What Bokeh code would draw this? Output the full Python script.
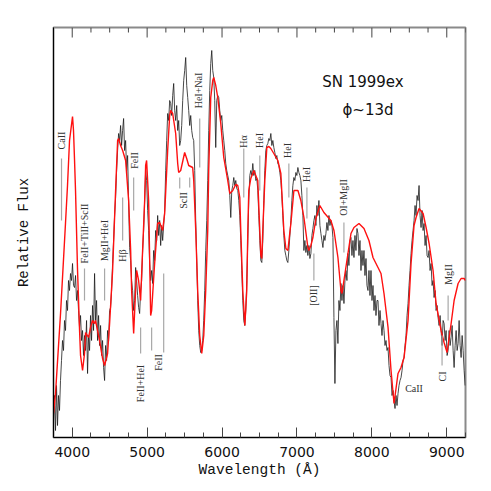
import numpy as np
from bokeh.plotting import figure
from bokeh.models import Range1d, FixedTicker, ColumnDataSource
from bokeh.core.properties import value
from bokeh.embed import file_html
from bokeh.resources import INLINE

# ---------------- data ----------------
# synthetic (model) spectrum: wavelength (A), relative flux
model_wave = [3750, 3777, 3844, 3910, 3937, 3964, 4004, 4017, 4031, 4044, 4071, 4098, 4111, 4138,
              4164, 4178, 4218, 4245, 4271, 4298, 4311, 4365, 4405, 4432, 4472, 4499, 4539, 4579,
              4606, 4619, 4646, 4673, 4713, 4753, 4780, 4793, 4820, 4846, 4860, 4886, 4913, 4927,
              4967, 4980, 4993, 5020, 5034, 5047, 5060, 5100, 5140, 5167, 5207, 5234, 5274, 5301,
              5314, 5341, 5381, 5408, 5421, 5448, 5501, 5528, 5555, 5608, 5622, 5649, 5675, 5702,
              5729, 5756, 5782, 5809, 5822, 5849, 5876, 5889, 5916, 5943, 5983, 6023, 6076, 6103,
              6143, 6183, 6210, 6237, 6250, 6277, 6304, 6330, 6344, 6357, 6384, 6424, 6477, 6504,
              6518, 6531, 6544, 6571, 6598, 6625, 6651, 6691, 6745, 6785, 6825, 6852, 6879, 6905,
              6919, 6959, 6986, 7013, 7052, 7093, 7146, 7159, 7186, 7213, 7253, 7306, 7360, 7453,
              7494, 7547, 7587, 7601, 7627, 7681, 7721, 7761, 7828, 7895, 7961, 8015, 8082, 8122,
              8162, 8216, 8256, 8296, 8349, 8389, 8430, 8483, 8523, 8563, 8590, 8630, 8684, 8724,
              8764, 8817, 8857, 8924, 8964, 9004, 9058, 9098, 9151, 9191, 9232, 9250]
model_flux = [24, 44, 124, 214, 252, 297, 321, 307, 277, 247, 167, 107, 82, 67,
              84, 105, 100, 110, 117, 114, 117, 97, 79, 72, 84, 114, 167, 247,
              297, 299, 292, 287, 277, 237, 187, 147, 104, 147, 167, 157, 137, 164,
              237, 272, 277, 237, 177, 122, 127, 174, 214, 215, 207, 224, 287, 322,
              327, 324, 304, 274, 265, 267, 285, 279, 272, 270, 257, 207, 147, 102,
              84, 102, 147, 207, 267, 340, 357, 360, 352, 340, 314, 280, 257, 244,
              247, 253, 252, 240, 207, 147, 112, 147, 207, 247, 259, 267, 257, 207,
              182, 179, 207, 257, 290, 291, 289, 284, 277, 264, 207, 189, 187, 205,
              214, 247, 247, 247, 237, 220, 190, 187, 192, 200, 219, 232, 225, 217,
              207, 180, 147, 144, 157, 184, 204, 210, 214, 209, 197, 180, 170, 164,
              144, 110, 67, 34, 64, 70, 80, 117, 174, 212, 220, 229, 224, 210,
              194, 167, 134, 107, 95, 85, 114, 137, 154, 159, 159, 157]

# observed spectrum: constant dispersion starting at obs_start (A)
obs_start = 3750.0
obs_dispersion = 13.37
obs_flux = [17, 42, 7, 52, 12, 42, 27, 57, 77, 97, 87, 117, 107, 137, 127, 157, 147, 164, 157, 174,
            152, 150, 162, 137, 147, 127, 110, 122, 97, 107, 82, 102, 87, 117, 64, 102, 87, 122, 97, 132,
            107, 164, 117, 137, 97, 122, 92, 112, 82, 97, 70, 57, 92, 77, 107, 97, 127, 130, 147, 174,
            197, 222, 240, 267, 287, 304, 297, 312, 292, 307, 319, 287, 297, 267, 282, 237, 190, 177, 157, 147,
            127, 137, 170, 157, 142, 130, 124, 147, 157, 187, 207, 237, 267, 257, 227, 207, 174, 157, 167, 154,
            187, 177, 207, 197, 222, 202, 217, 192, 212, 197, 212, 227, 267, 297, 324, 317, 337, 334, 322, 342,
            354, 327, 317, 332, 307, 317, 292, 297, 312, 337, 357, 367, 380, 352, 340, 327, 312, 322, 307, 300,
            297, 267, 217, 177, 137, 107, 92, 85, 87, 97, 117, 147, 187, 217, 257, 307, 347, 374, 387, 367,
            360, 337, 290, 337, 342, 340, 327, 317, 322, 307, 297, 287, 274, 267, 262, 257, 242, 220, 247, 252,
            260, 252, 257, 249, 247, 237, 222, 197, 167, 137, 117, 112, 127, 157, 197, 237, 262, 267, 262, 274,
            262, 267, 257, 259, 247, 222, 197, 177, 175, 197, 237, 267, 287, 292, 294, 299, 297, 304, 292, 297,
            290, 285, 279, 282, 274, 272, 265, 257, 242, 222, 202, 187, 182, 177, 175, 187, 202, 217, 237, 252,
            260, 257, 265, 262, 270, 265, 262, 257, 242, 222, 187, 197, 185, 192, 182, 192, 179, 184, 202, 209,
            217, 222, 212, 232, 222, 237, 212, 204, 197, 190, 202, 197, 204, 215, 207, 222, 212, 217, 212, 200,
            120, 54, 107, 117, 94, 137, 127, 154, 137, 152, 134, 157, 167, 157, 184, 172, 197, 200, 182, 197,
            180, 202, 187, 209, 204, 182, 197, 167, 187, 172, 187, 162, 179, 152, 147, 167, 142, 167, 137, 152,
            127, 142, 122, 137, 137, 112, 127, 114, 102, 117, 107, 92, 97, 87, 90, 72, 62, 60, 42, 47,
            37, 29, 42, 32, 44, 52, 57, 60, 67, 77, 80, 92, 102, 122, 134, 152, 167, 184, 197, 207,
            217, 232, 222, 242, 237, 252, 222, 210, 227, 207, 214, 192, 202, 182, 180, 187, 167, 174, 152, 157,
            140, 147, 127, 132, 120, 112, 122, 107, 92, 117, 114, 97, 107, 82, 87, 107, 92, 100, 112, 87,
            70, 92, 107, 87, 94, 117, 92, 80, 102, 87, 67, 52]

# line identification marks: wavelength, flux range of the tick mark
mark_wave = [3857, 4164, 4432, 4673, 4820, 4913, 5060, 5221, 5435, 5568, 5702, 6290, 6504, 6892,
             7133, 7226, 7627, 8937, 9018]
mark_top = [279, 169, 169, 240, 260, 110, 110, 164, 260, 260, 319, 289, 282, 274, 250, 184, 215, 102, 142]
mark_bot = [217, 137, 137, 197, 227, 84, 87, 85, 249, 250, 270, 240, 247, 240, 219, 157, 185, 72, 117]

# line identification labels
label_text = ["CaII", "FeII+TiII+ScII", "MgII+HeI", "H\u03b2", "FeII", "FeII+HeI", "FeII", "ScII",
              "HeI+NaI", "H\u03b1", "HeI", "HeI", "HeI", "[OII]", "OI+MgII", "CI", "MgII"]
label_wave = [3857, 4164, 4432, 4673, 4833, 4913, 5154, 5488, 5689, 6290, 6504, 6879, 7133, 7226,
              7627, 8937, 9018]
label_flux = [297, 204, 197, 182, 277, 54, 75, 237, 347, 296, 297, 287, 263, 142, 240, 61, 163]

# horizontal label
h_label_text = ["CaII"]
h_label_wave = [8563]
h_label_flux = [49]

title_text = ["SN 1999ex", "\u03d5~13d"]
title_wave = [7881, 7948]
title_flux = [356, 328]

x_ticks = [4000, 5000, 6000, 7000, 8000, 9000]
x_minor_ticks = [3750, 4250, 4500, 4750, 5250, 5500, 5750, 6250, 6500, 6750, 7250, 7500, 7750,
                 8250, 8500, 8750, 9250]

X0, X1, Y0, Y1 = 3750, 9250, 0, 410

# ---------------- figure ----------------
p = figure(frame_width=412, frame_height=410, output_backend="svg", toolbar_location=None,
           x_range=Range1d(X0, X1), y_range=Range1d(Y0, Y1),
           min_border_left=53, min_border_right=24, min_border_top=27, min_border_bottom=50)
p.grid.visible = False
p.outline_line_color = "#8a8a8a"
p.outline_line_width = 2
p.background_fill_color = "white"
p.border_fill_color = "white"

obs_wave = obs_start + obs_dispersion * np.arange(len(obs_flux))
p.line(obs_wave, obs_flux, line_color="#1a1a1a", line_width=0.8)
p.line(model_wave, model_flux, line_color="#ff1010", line_width=1.4)

p.segment(x0=mark_wave, y0=mark_bot, x1=mark_wave, y1=mark_top, line_color="#a8a8a8", line_width=1.2)

lab_src = ColumnDataSource(dict(x=label_wave, y=label_flux, t=label_text))
p.text(x="x", y="y", text="t", source=lab_src, angle=np.pi / 2, text_align="center",
       text_baseline="middle", text_font=value("Liberation Serif"), text_font_size="10px",
       text_color="#333333")
p.text(x=h_label_wave, y=h_label_flux, text=h_label_text, text_align="center",
       text_baseline="middle", text_font=value("Liberation Serif"), text_font_size="10px",
       text_color="#333333")
p.text(x=title_wave, y=title_flux, text=title_text, text_align="center", text_baseline="middle",
       text_font=value("DejaVu Sans"), text_font_size="15px", text_color="#111111")

# inward ticks along the top edge, drawn from the same tick lists
p.ray(x=x_ticks, y=[Y1] * len(x_ticks), length=10, length_units="screen", angle=-np.pi / 2,
      line_color="#444444", line_width=1)
p.ray(x=x_minor_ticks, y=[Y1] * len(x_minor_ticks), length=5, length_units="screen",
      angle=-np.pi / 2, line_color="#444444", line_width=1)

# axes
xa = p.xaxis[0]
xa.ticker = FixedTicker(ticks=x_ticks, minor_ticks=x_minor_ticks)
xa.major_tick_in = 10
xa.major_tick_out = 0
xa.minor_tick_in = 5
xa.minor_tick_out = 0
xa.major_tick_line_color = "#444444"
xa.minor_tick_line_color = "#444444"
xa.axis_line_color = "black"
xa.major_label_text_font = "DejaVu Sans"
xa.major_label_text_font_size = "14px"
xa.major_label_text_color = "#111111"
xa.major_label_standoff = 9
xa.axis_label = "Wavelength (\u00c5)"
xa.axis_label_text_font = "Liberation Mono"
xa.axis_label_text_font_size = "14.5px"
xa.axis_label_text_font_style = "normal"
xa.axis_label_text_color = "#111111"
xa.axis_label_standoff = 2

ya = p.yaxis[0]
ya.ticker = FixedTicker(ticks=[])
ya.major_tick_in = 0
ya.major_tick_out = 0
ya.minor_tick_in = 0
ya.minor_tick_out = 0
ya.axis_line_color = "black"
ya.axis_label = "Relative Flux"
ya.axis_label_text_font = "Liberation Mono"
ya.axis_label_text_font_size = "14px"
ya.axis_label_text_font_style = "normal"
ya.axis_label_text_color = "#111111"
ya.axis_label_standoff = 22

open("out.html", "w").write(file_html(p, INLINE))
